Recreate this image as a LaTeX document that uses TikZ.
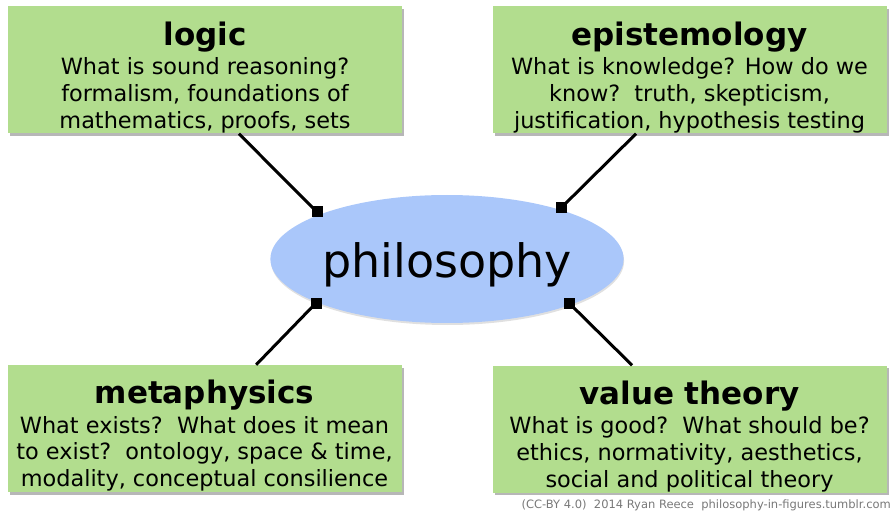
\documentclass[tikz,border=0pt]{standalone}
\usepackage{fontspec}
\setmainfont{DejaVu Sans}
\usetikzlibrary{shapes.geometric, shadows}
\usepackage{xcolor}

\definecolor{boxgreen}{RGB}{178,221,142}
\definecolor{ovalblue}{RGB}{170,199,250}
\definecolor{creditgray}{RGB}{120,120,120}

\newcommand{\boxhead}[1]{{\fontsize{31}{31}\selectfont\bfseries\rule{0pt}{38pt}#1}}

\begin{document}
\begin{tikzpicture}[
  x=1pt, y=-1pt,
  topic/.style={rectangle, fill=boxgreen, minimum width=394pt, minimum height=127pt,
                inner sep=0pt, align=center,
                font=\fontsize{22.4}{26.8}\selectfont,
                drop shadow={shadow xshift=2pt, shadow yshift=-2.5pt, opacity=0.4, fill=black!70}},
  hub/.style={ellipse, fill=ovalblue, minimum width=340pt, minimum height=128pt, inner sep=0pt,
              font=\fontsize{46}{46}\selectfont, text height=47pt, text depth=11pt,
              drop shadow={shadow xshift=0.5pt, shadow yshift=-2pt, opacity=0.2, fill=black!60}},
  knot/.style={rectangle, fill=black, minimum size=11pt, inner sep=0pt},
  link/.style={line width=3pt},
]
  \useasboundingbox (0,0) rectangle (895,516);

  % Centre
  \node[hub] (phil) at (447,259) {philosophy};

  % Branches
  \node[topic] (logic) at (205,70)    {\boxhead{logic}\\[2.5pt]What is sound reasoning?\\formalism, foundations of\\mathematics, proofs, sets};
  \node[topic] (epi)   at (689.5,70)  {\boxhead{epistemology}\\[2.5pt]What is knowledge? How do we\\know?\ \ truth, skepticism,\\justification, hypothesis testing};
  \node[topic] (meta)  at (204.5,428.5) {\boxhead{metaphysics}\\[2.5pt]What exists?\ \ What does it mean\\to exist?\ \ ontology, space \& time,\\modality, conceptual consilience};
  \node[topic] (value) at (689.5,429) {\boxhead{value theory}\\[2.5pt]What is good?\ \ What should be?\\ethics, normativity, aesthetics,\\social and political theory};

  % Joints on the oval
  \node[knot] (k1) at (317,212) {};
  \node[knot] (k2) at (561,208) {};
  \node[knot] (k3) at (316,303) {};
  \node[knot] (k4) at (569,303) {};

  % Links
  \draw[link] (logic.-62)  -- (k1.center);
  \draw[link] (epi.230)    -- (k2.center);
  \draw[link] (meta.51.5)  -- (k3.center);
  \draw[link] (value.132)  -- (k4.center);

  % Credit
  \node[anchor=base east, inner sep=0pt, text=creditgray, font=\fontsize{11.5}{13}\selectfont]
    (credit) at (891,508) {(CC-BY 4.0)\ \ 2014 Ryan Reece\ \ philosophy-in-figures.tumblr.com};
\end{tikzpicture}
\end{document}
